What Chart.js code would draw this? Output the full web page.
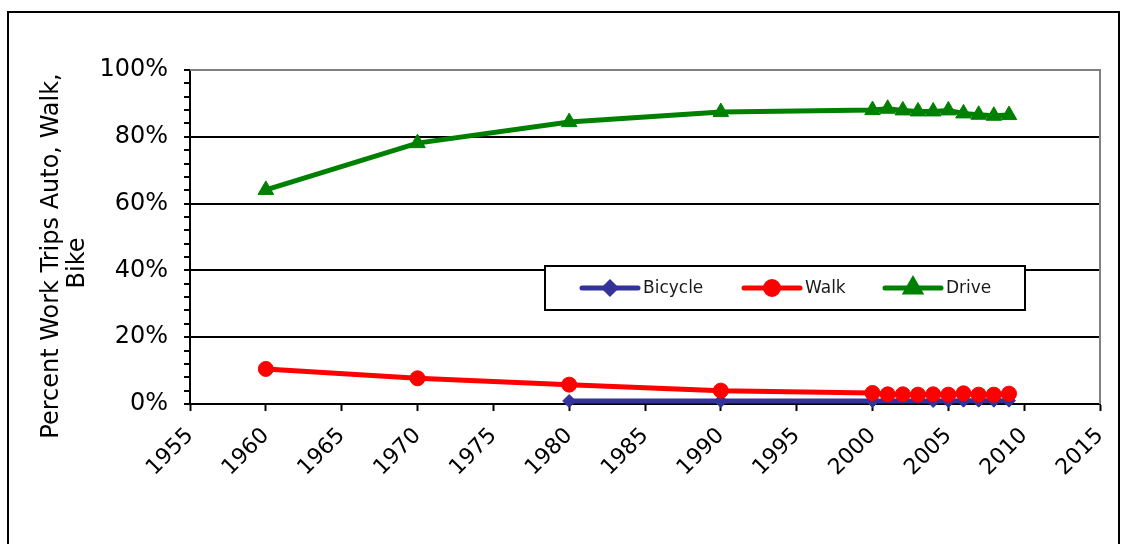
<!DOCTYPE html>
<html>
<head>
<meta charset="utf-8">
<script src="https://cdn.jsdelivr.net/npm/chart.js@4.4.1/dist/chart.umd.min.js"></script>
<style>
  html, body { margin: 0; padding: 0; background: #fff; }
  #wrap { position: relative; width: 1128px; height: 544px; overflow: hidden; }
  #frame { position: absolute; left: 7px; top: 11px; width: 1113px; height: 560px; border: 2px solid #000; box-sizing: border-box; pointer-events: none; }
  canvas { position: absolute; left: 0; top: 0; }
</style>
</head>
<body>
<div id="wrap">
  <canvas id="c" width="1128" height="544"></canvas>
  <div id="frame"></div>
</div>
<script>
// ---- data ----
const bicycleYears = [1980, 1990, 2000, 2004, 2005, 2006, 2007, 2008, 2009];
const bicycleValues = [0.9, 0.9, 0.9, 0.9, 0.9, 1.0, 1.0, 1.0, 1.0];

const walkYears = [1960, 1970, 1980, 1990, 2000, 2001, 2002, 2003, 2004, 2005, 2006, 2007, 2008, 2009];
const walkValues = [10.5, 7.7, 5.8, 4.0, 3.3, 2.9, 2.9, 2.8, 2.9, 2.8, 3.2, 2.8, 2.8, 3.1];

const driveYears = [1960, 1970, 1980, 1990, 2000, 2001, 2002, 2003, 2004, 2005, 2006, 2007, 2008, 2009];
const driveValues = [64.1, 78.1, 84.4, 87.4, 88.0, 88.4, 87.9, 87.6, 87.6, 87.9, 87.0, 86.6, 86.3, 86.5];

const seriesNames = ["Bicycle", "Walk", "Drive"];
const seriesColors = ["#333399", "#FF0000", "#008000"];
const seriesMarkers = ["rectRot", "circle", "triangle"];
const markerRadius = [6.5, 7.5, 9];

const xMin = 1955, xMax = 2015, xStep = 5;
const yMin = 0, yMax = 100, yMajor = 20, yMinor = 4;
const yTitle = ["Percent Work Trips Auto, Walk,", "Bike"];

const FONT = "'DejaVu Sans', Verdana, sans-serif";

function pts(xs, ys) { return xs.map((x, i) => ({ x: x, y: ys[i] })); }

const dataSets = [pts(bicycleYears, bicycleValues), pts(walkYears, walkValues), pts(driveYears, driveValues)];

const datasets = dataSets.map((d, i) => ({
  label: seriesNames[i],
  data: d,
  borderColor: seriesColors[i],
  backgroundColor: seriesColors[i],
  pointBackgroundColor: seriesColors[i],
  pointBorderColor: seriesColors[i],
  pointStyle: seriesMarkers[i],
  pointRadius: markerRadius[i],
  pointBorderWidth: 1,
  borderWidth: 5,
  tension: 0,
  clip: 10,
  order: 3 - i
}));

// plot frame (top/right gray), y-axis title, custom legend inside plot
const framePlugin = {
  id: 'framePlugin',
  beforeDatasetsDraw(chart) {
    const { ctx, chartArea: a } = chart;
    ctx.save();
    ctx.strokeStyle = '#808080';
    ctx.lineWidth = 2;
    ctx.beginPath();
    ctx.moveTo(a.left, a.top);
    ctx.lineTo(a.right, a.top);
    ctx.lineTo(a.right, a.bottom);
    ctx.stroke();
    ctx.restore();
  },
  afterDatasetsDraw(chart) {
    const { ctx, chartArea: a } = chart;
    const bx = a.left + 355, by = a.top + 196, bw = 480, bh = 44;
    ctx.save();
    ctx.fillStyle = '#fff';
    ctx.fillRect(bx, by, bw, bh);
    ctx.strokeStyle = '#000';
    ctx.lineWidth = 2;
    ctx.strokeRect(bx, by, bw, bh);
    const cy = by + bh / 2;
    const starts = [bx + 37, bx + 199, bx + 340];
    ctx.font = "17px " + FONT;
    ctx.textBaseline = 'middle';
    ctx.textAlign = 'left';
    for (let i = 0; i < 3; i++) {
      const x0 = starts[i];
      ctx.strokeStyle = seriesColors[i];
      ctx.lineWidth = 5;
      ctx.lineCap = 'round';
      ctx.beginPath();
      ctx.moveTo(x0, cy);
      ctx.lineTo(x0 + 56, cy);
      ctx.stroke();
      ctx.fillStyle = seriesColors[i];
      Chart.helpers.drawPoint(ctx, { pointStyle: seriesMarkers[i], radius: markerRadius[i] - 1, borderWidth: 1 }, x0 + 28, cy);
      ctx.fillStyle = '#1a1a1a';
      ctx.fillText(seriesNames[i], x0 + 61, cy + 1);
    }
    ctx.restore();
  },
  afterDraw(chart) {
    const { ctx, chartArea: a } = chart;
    ctx.save();
    ctx.fillStyle = '#000';
    ctx.font = "24px " + FONT;
    ctx.textAlign = 'center';
    ctx.textBaseline = 'middle';
    const mid = (a.top + a.bottom) / 2;
    const xs = [52, 78];
    const ys = [mid + 19, mid + 26];
    for (let i = 0; i < yTitle.length; i++) {
      ctx.save();
      ctx.translate(xs[i], ys[i]);
      ctx.rotate(-Math.PI / 2);
      ctx.fillText(yTitle[i], 0, 0);
      ctx.restore();
    }
    ctx.restore();
  }
};

new Chart(document.getElementById('c'), {
  type: 'line',
  data: { datasets },
  plugins: [framePlugin],
  options: {
    responsive: false,
    animation: false,
    devicePixelRatio: 1,
    layout: { padding: { top: 70, right: 28, left: 0, bottom: 0 } },
    plugins: { legend: { display: false }, tooltip: { enabled: false } },
    scales: {
      x: {
        type: 'linear',
        min: xMin, max: xMax,
        afterFit(s) { s.height = 140; s.paddingRight = 0; },
        afterBuildTicks(s) {
          const t = [];
          for (let v = xMin; v <= xMax; v += xStep) t.push({ value: v });
          s.ticks = t;
        },
        ticks: {
          color: '#000',
          font: { family: FONT, size: 22 },
          minRotation: 45, maxRotation: 45,
          autoSkip: false,
          padding: 12,
          callback: v => String(v)
        },
        grid: { drawOnChartArea: false, drawTicks: true, tickLength: 7, tickColor: '#000', tickWidth: 2 },
        border: { display: true, color: '#000', width: 2 }
      },
      y: {
        type: 'linear',
        min: yMin, max: yMax,
        afterFit(s) { s.width = 190; },
        afterBuildTicks(s) {
          const t = [];
          for (let v = yMin; v <= yMax; v += yMinor) t.push({ value: v });
          if (t[t.length - 1].value !== yMax) t.push({ value: yMax });
          s.ticks = t;
        },
        ticks: {
          color: '#000',
          font: { family: FONT, size: 24 },
          padding: 16,
          autoSkip: false,
          callback: v => (v % yMajor === 0 ? v + '%' : '')
        },
        grid: {
          drawOnChartArea: true,
          tickLength: 6,
          color: c => (c.tick && c.tick.value % yMajor === 0 && c.tick.value !== yMax && c.tick.value !== yMin ? '#000' : 'rgba(0,0,0,0)'),
          lineWidth: 2,
          tickColor: '#000',
          tickWidth: 2
        },
        border: { display: true, color: '#000', width: 2 },
        title: { display: false }
      }
    }
  }
});
</script>
</body>
</html>
